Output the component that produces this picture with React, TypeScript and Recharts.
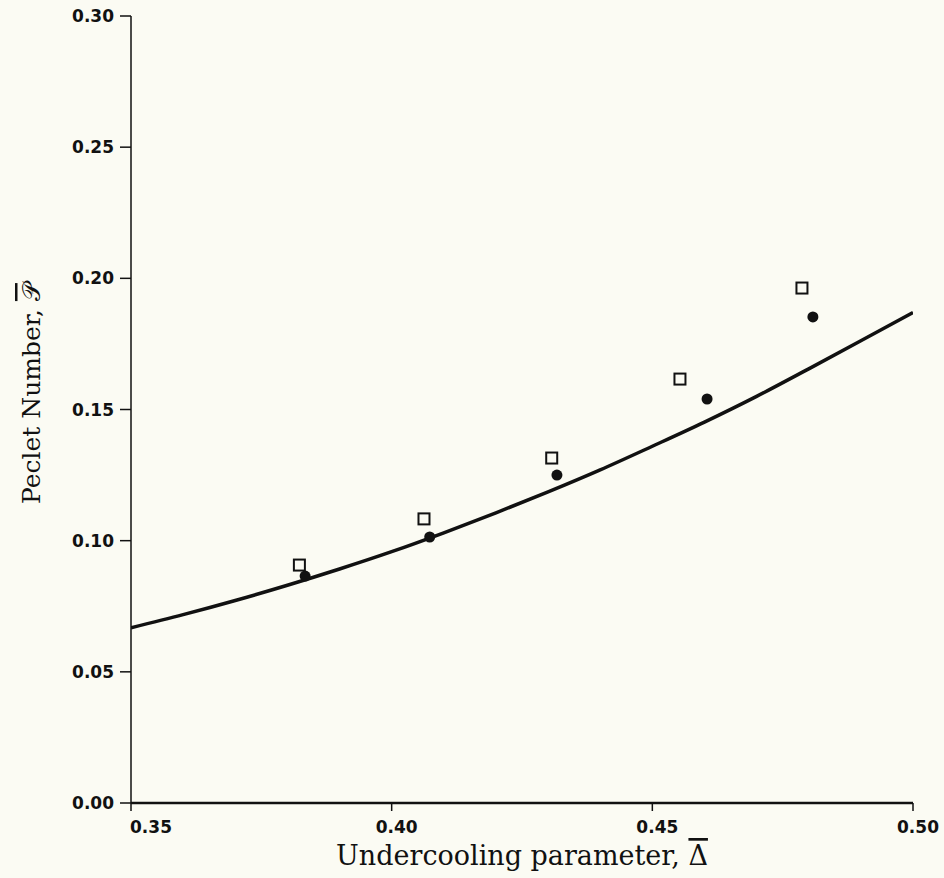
import React from "react";
import { ComposedChart, Line, Scatter, XAxis, YAxis } from "recharts";

const curveX = [0.35, 0.36, 0.37, 0.38, 0.39, 0.40, 0.41, 0.42, 0.43, 0.44, 0.45, 0.46, 0.47, 0.48, 0.49, 0.50];
const curveP = [0.0668, 0.0718, 0.0772, 0.0830, 0.0892, 0.0958, 0.1030, 0.1106, 0.1186, 0.1270, 0.1360, 0.1452, 0.1550, 0.1655, 0.1762, 0.1870];

const squareX = [0.3823, 0.4062, 0.4307, 0.4553, 0.4787];
const squareP = [0.0907, 0.1083, 0.1315, 0.1616, 0.1963];

const circleX = [0.3834, 0.4073, 0.4317, 0.4605, 0.4808];
const circleP = [0.0865, 0.1014, 0.1250, 0.1540, 0.1853];

const xTicks = [0.35, 0.40, 0.45, 0.50];
const yTicks = [0.0, 0.05, 0.10, 0.15, 0.20, 0.25, 0.30];

const xTitle = "Undercooling parameter, ";
const xSymbol = "\u0394";
const yTitle = "Peclet Number, ";
const ySymbol = "\uD835\uDCAB";

const curveData = curveX.map((x, i) => ({ x, y: curveP[i] }));
const squareData = squareX.map((x, i) => ({ x, y: squareP[i] }));
const circleData = circleX.map((x, i) => ({ x, y: circleP[i] }));

const BG = "#fbfbf3";
const INK = "#111";

const SquareShape = (props: any) => {
  const { cx, cy } = props;
  return <rect x={cx - 5.5} y={cy - 5.5} width={11} height={11} fill="none" stroke={INK} strokeWidth={2} />;
};
const CircleShape = (props: any) => {
  const { cx, cy } = props;
  return <circle cx={cx} cy={cy} r={5.5} fill={INK} />;
};

const XTick = (props: any) => {
  const { x, y, payload, index } = props;
  const shift = index === 0 ? 20 : 5;
  return (
    <text x={x + shift} y={y + 20} textAnchor="middle" fill={INK}
      style={{ fontFamily: "DejaVu Sans", fontWeight: 700, fontSize: 17 }}>
      {Number(payload.value).toFixed(2)}
    </text>
  );
};

const YTick = (props: any) => {
  const { x, y, payload } = props;
  return (
    <text x={x} y={y + 6} textAnchor="end" fill={INK}
      style={{ fontFamily: "DejaVu Sans", fontWeight: 700, fontSize: 17 }}>
      {Number(payload.value).toFixed(2)}
    </text>
  );
};

const XTitle = (props: any) => {
  const vb = props.viewBox || {};
  const cx = vb.x + vb.width / 2;
  const by = vb.y + vb.height - 13;
  return (
    <text x={cx} y={by} textAnchor="middle" fill={INK}
      style={{ fontFamily: "DejaVu Serif", fontSize: 27 }}>
      {xTitle}
      <tspan style={{ textDecoration: "overline" }}>{xSymbol}</tspan>
    </text>
  );
};

const YTitle = (props: any) => {
  const vb = props.viewBox || {};
  const cx = 40;
  const cy = vb.y + vb.height / 2 - 16;
  return (
    <text x={cx} y={cy} textAnchor="middle" fill={INK} transform={`rotate(-90, ${cx}, ${cy})`}
      style={{ fontFamily: "DejaVu Serif", fontSize: 25 }}>
      {yTitle}
      <tspan style={{ textDecoration: "overline" }}>{ySymbol}</tspan>
    </text>
  );
};

export default function App() {
  return (
    <div style={{ position: "absolute", left: 0, top: 0, width: 944, height: 878, background: BG }}>
      <ComposedChart width={944} height={878} margin={{ top: 16, right: 31, bottom: 0, left: 0 }}>
        <XAxis
          dataKey="x"
          type="number"
          domain={[0.35, 0.5]}
          ticks={xTicks}
          allowDataOverflow
          height={75}
          tickSize={8}
          tickMargin={2}
          tick={<XTick />}
          axisLine={{ stroke: INK, strokeWidth: 2.5 }}
          tickLine={{ stroke: INK, strokeWidth: 1.5 }}
          label={<XTitle />}
        />
        <YAxis
          dataKey="y"
          type="number"
          domain={[0, 0.3]}
          ticks={yTicks}
          allowDataOverflow
          width={131}
          tickSize={11}
          tickMargin={6}
          tick={<YTick />}
          axisLine={{ stroke: INK, strokeWidth: 1.5 }}
          tickLine={{ stroke: INK, strokeWidth: 1.5 }}
          label={<YTitle />}
        />
        <Line data={curveData} dataKey="y" type="monotone" stroke={INK} strokeWidth={3.5} dot={false} isAnimationActive={false} />
        <Scatter data={squareData} dataKey="y" shape={<SquareShape />} isAnimationActive={false} />
        <Scatter data={circleData} dataKey="y" shape={<CircleShape />} isAnimationActive={false} />
      </ComposedChart>
    </div>
  );
}
